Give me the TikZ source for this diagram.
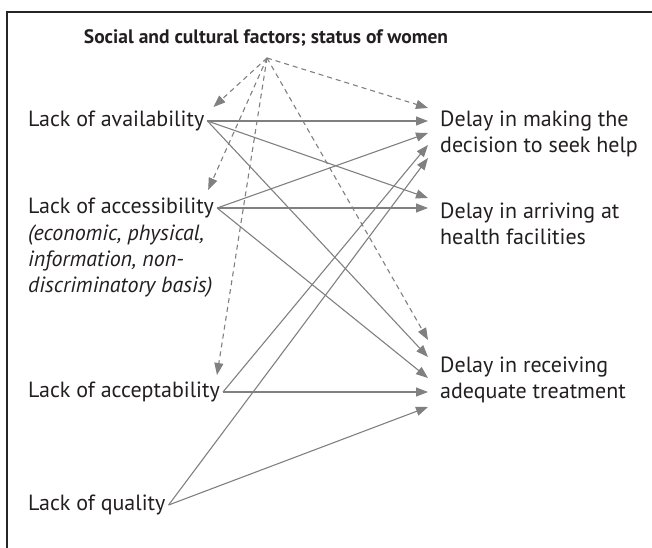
\documentclass[tikz,border=0pt]{standalone}
\usepackage{fontspec}
\setmainfont{PT Sans}
\usetikzlibrary{arrows.meta, positioning}
\definecolor{linkgray}{RGB}{128,128,131}
\definecolor{textblack}{RGB}{35,31,32}
\tikzset{
  factor/.style={
    anchor=west,
    inner xsep=3bp, inner ysep=0pt,
    text=textblack,
  },
  note/.style={
    anchor=north west, align=left,
    inner xsep=3bp, inner ysep=0pt,
    font=\fontsize{22bp}{26bp}\selectfont\itshape, text=textblack,
  },
  delay/.style={
    anchor=west, align=left,
    inner sep=0pt, text=textblack,
  },
  link/.style={
    draw=linkgray, line width=1.1bp,
    -{Triangle[length=12bp,width=9bp]}, color=linkgray,
  },
  influence/.style={
    link, dash pattern=on 5bp off 4bp,
  },
}

\begin{document}
\begin{tikzpicture}[x=1bp, y=-1bp, font=\fontsize{22bp}{26bp}\selectfont]
\useasboundingbox (0,0) rectangle (652,548);
\draw[line width=2.5bp, draw=black!85] (7,560) -- (7,12) -- (660,12);

\node[font=\bfseries\fontsize{19.5bp}{22bp}\selectfont, text=textblack] (social) at (266,38)
  {Social and cultural factors; status of women};
\coordinate (apex) at (267,58);

\node[factor] (avail) at (25,121) {Lack of availability};
\node[factor] (access) at (25,208) {Lack of accessibility};
\node[note] (accessnote) at ([yshift=-6bp]access.south west)
  {(economic, physical,\\information, non-\\discriminatory basis)};
\node[factor] (accept) at (25,392) {Lack of acceptability};
\node[factor] (quality) at (25,505) {Lack of quality};

\node[delay] (making) at (440,134) {Delay in making the\\decision to seek help};
\node[delay] (arriving) at (440,224) {Delay in arriving at\\health facilities};
\node[delay] (receiving) at (440,380) {Delay in receiving\\adequate treatment};

\foreach \src/\dst/\dy in {
  avail/making/-13, avail/arriving/-26, avail/receiving/-23,
  access/making/-1, access/arriving/-16, access/receiving/-2,
  accept/making/11, accept/receiving/12,
  quality/making/24, quality/receiving/27}
  \draw[link] (\src.east) -- ([shift={(-12,\dy)}]\dst.west);

% dashed influences from the top
\draw[influence] (apex) -- ([shift={(6,-14)}]avail.east);
\draw[influence] (apex) -- ([shift={(-9,-18)}]access.east);
\draw[influence] (apex) -- ([shift={(-6,-17)}]accept.east);
\draw[influence] (apex) -- ([shift={(-12,-26)}]making.west);
\draw[influence] (apex) -- ([shift={(-12,-40)}]receiving.west);
\end{tikzpicture}
\end{document}
